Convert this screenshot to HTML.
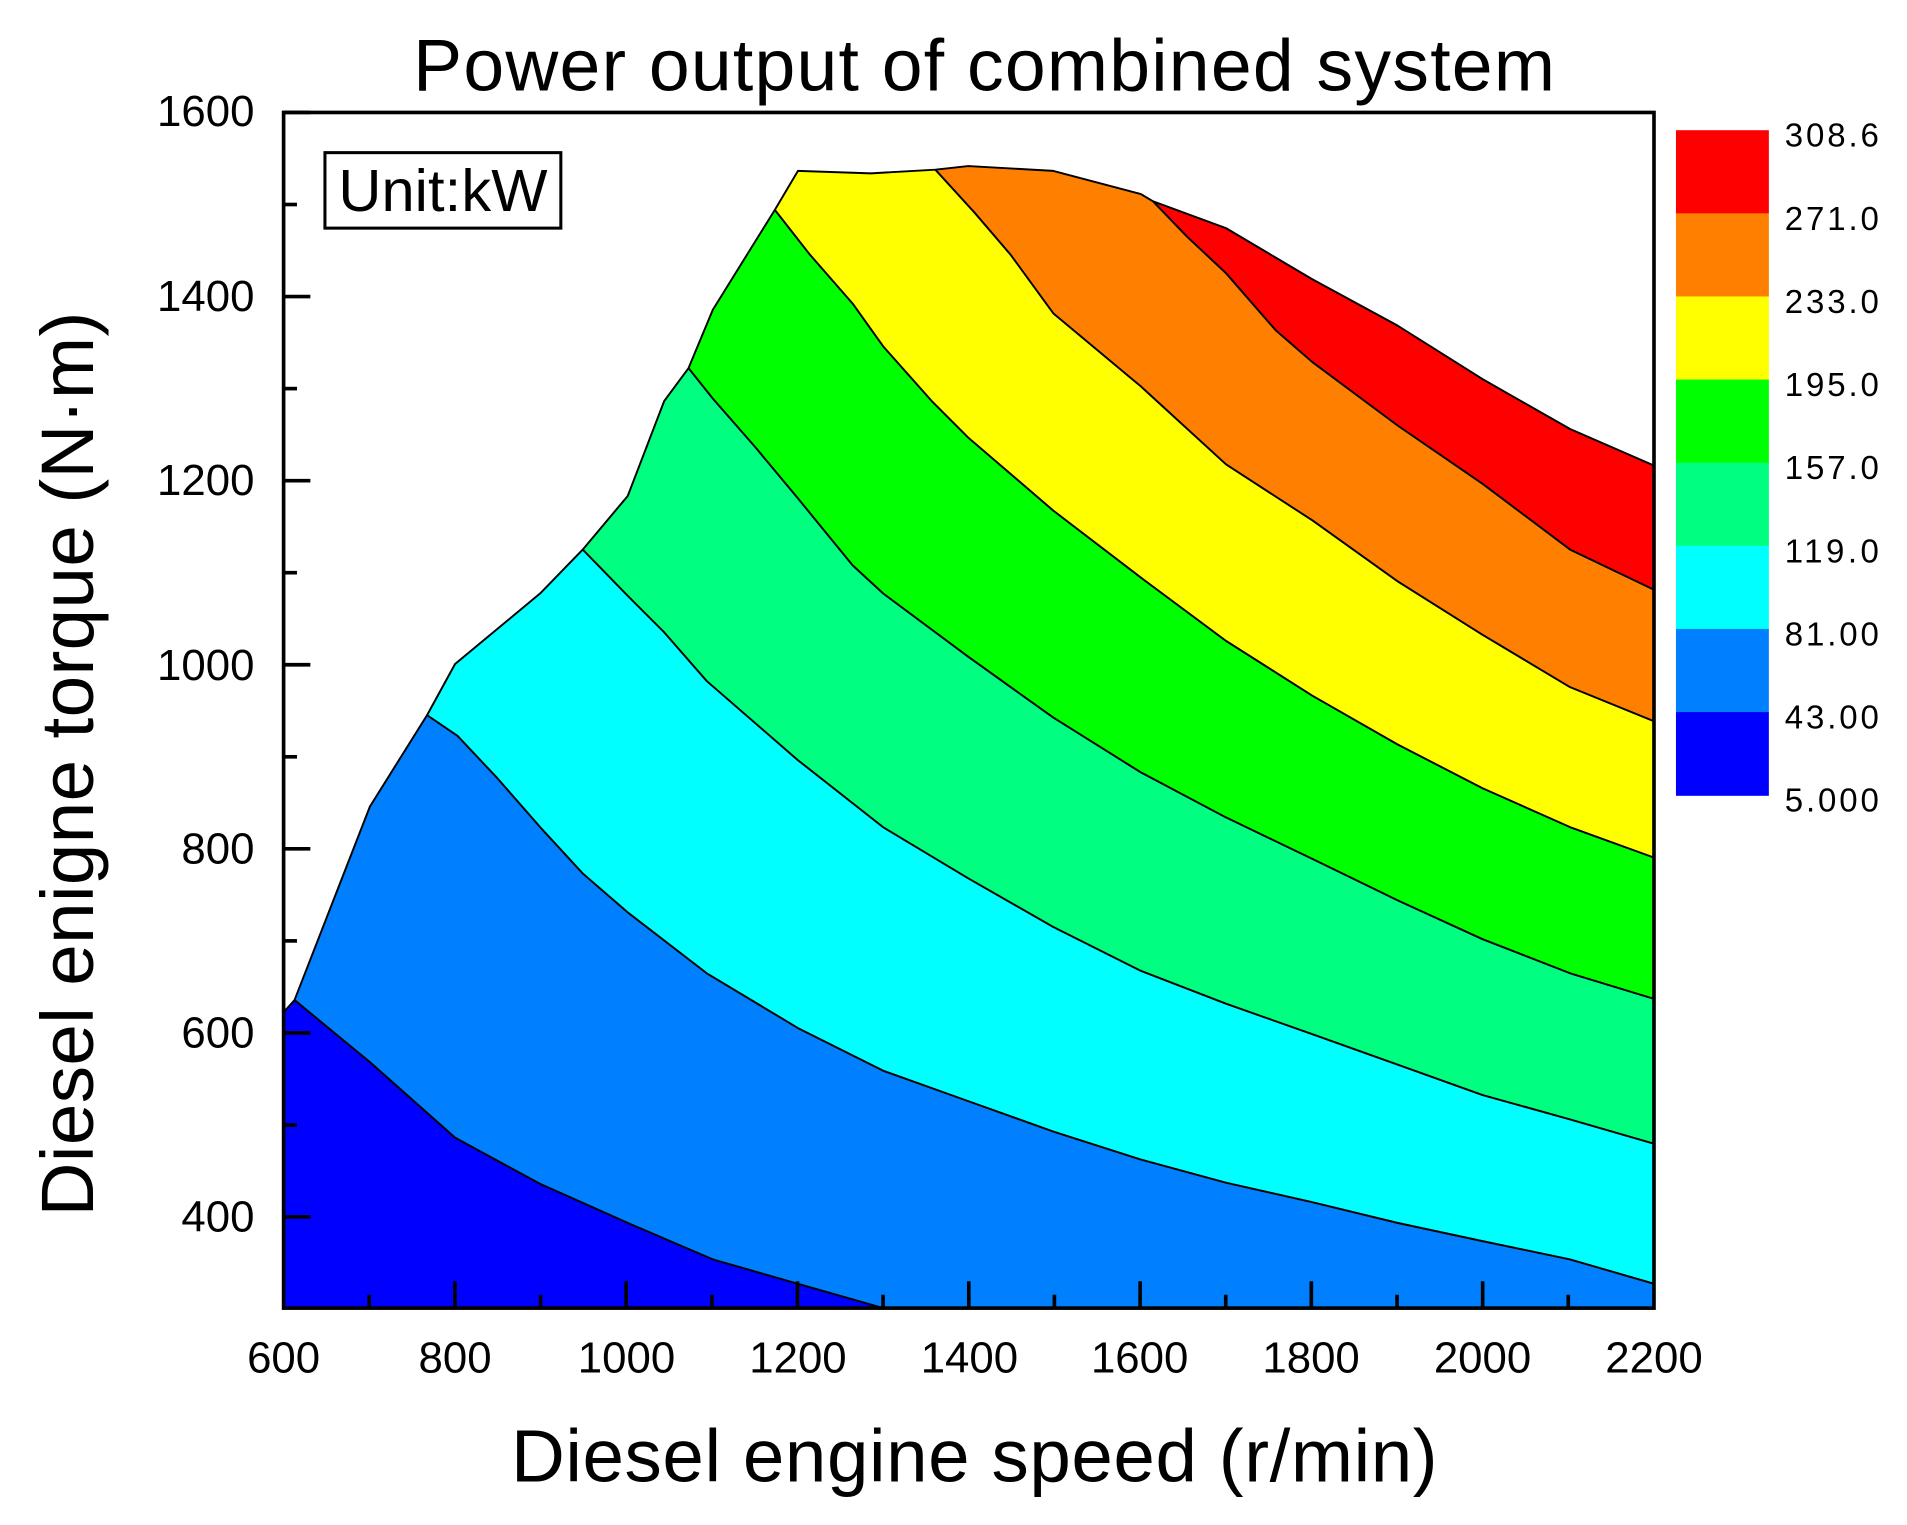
<!DOCTYPE html>
<html><head><meta charset="utf-8"><style>
html,body{margin:0;padding:0;background:#fff;}
svg{display:block;}
text{font-family:"Liberation Sans",Arial,sans-serif;fill:#000;}
</style></head><body>
<svg width="1907" height="1525" viewBox="0 0 1560 1247.5" preserveAspectRatio="none" xmlns="http://www.w3.org/2000/svg">
<defs>
<clipPath id="dom"><polygon points="232,832 241,822 303,663 350,588 373,546 443,488 478,452 515,408 545,330 565,303 585,255 636,173 655,141 715,143 768,140 795,137 865,141 937,160 947,166 1007,188 1078,230 1148,268 1218,312 1290,353 1359,383 1359,1075 232,1075"/></clipPath>
</defs>
<g transform="translate(232,92) scale(0.9947,0.996) translate(-232,-93)">
<g clip-path="url(#dom)">
<rect x="220" y="100" width="1150" height="990" fill="#ff0000"/>
<polygon fill="#ff8000" points="947,166 975,195 1007,225 1048,272 1078,298 1148,350 1218,398 1290,452 1359,485 1400,1200 100,1200 100,0 947,0"/>
<polygon fill="#ffff00" points="768,140 800,175 830,210 865,258 937,318 1007,382 1078,428 1148,478 1218,522 1290,565 1359,593 1400,1200 100,1200 100,0 768,0"/>
<polygon fill="#00ff00" points="636,173 665,210 700,250 725,285 765,330 795,360 865,420 937,475 1007,527 1078,572 1148,612 1218,648 1290,680 1359,705 1400,1200 100,1200 100,0 636,0"/>
<polygon fill="#00ff80" points="565,303 585,328 620,368 655,410 700,465 725,488 795,540 865,590 937,635 1007,672 1078,706 1148,740 1218,772 1290,800 1359,821 1400,1200 100,1200 100,0 565,0"/>
<polygon fill="#00ffff" points="478,452 515,490 545,520 580,560 655,625 725,680 795,722 865,762 937,798 1007,825 1078,850 1148,875 1218,900 1290,920 1359,940 1400,1200 100,1200 100,0 478,0"/>
<polygon fill="#0080ff" points="350,588 375,605 408,640 443,680 478,718 515,750 580,800 655,845 725,880 795,905 865,930 937,953 1007,972 1078,988 1148,1005 1218,1020 1290,1035 1359,1055 1400,1200 100,1200 100,0 350,0"/>
<polygon fill="#0000ff" points="241,822 303,873 373,935 443,973 515,1005 585,1035 655,1055 725,1075 725,1200 100,1200 100,0 241,0"/>
</g>
<g fill="none" stroke="#000" stroke-width="1.6" stroke-linejoin="round">
<polyline points="947,166 975,195 1007,225 1048,272 1078,298 1148,350 1218,398 1290,452 1359,485"/>
<polyline points="768,140 800,175 830,210 865,258 937,318 1007,382 1078,428 1148,478 1218,522 1290,565 1359,593"/>
<polyline points="636,173 665,210 700,250 725,285 765,330 795,360 865,420 937,475 1007,527 1078,572 1148,612 1218,648 1290,680 1359,705"/>
<polyline points="565,303 585,328 620,368 655,410 700,465 725,488 795,540 865,590 937,635 1007,672 1078,706 1148,740 1218,772 1290,800 1359,821"/>
<polyline points="478,452 515,490 545,520 580,560 655,625 725,680 795,722 865,762 937,798 1007,825 1078,850 1148,875 1218,900 1290,920 1359,940"/>
<polyline points="350,588 375,605 408,640 443,680 478,718 515,750 580,800 655,845 725,880 795,905 865,930 937,953 1007,972 1078,988 1148,1005 1218,1020 1290,1035 1359,1055"/>
<polyline points="241,822 303,873 373,935 443,973 515,1005 585,1035 655,1055 725,1075"/>
<polyline points="232,832 241,822 303,663 350,588 373,546 443,488 478,452 515,408 545,330 565,303 585,255 636,173 655,141 715,143 768,140 795,137 865,141 937,160 947,166 1007,188 1078,230 1148,268 1218,312 1290,353 1359,383"/>
</g>
<rect x="232" y="93" width="1127" height="982" fill="none" stroke="#000" stroke-width="3"/>
<g stroke="#000" stroke-width="3">
<line x1="232" y1="93" x2="254" y2="93"/><line x1="232" y1="168.6" x2="243" y2="168.6"/>
<line x1="232" y1="244.2" x2="254" y2="244.2"/><line x1="232" y1="319.8" x2="243" y2="319.8"/>
<line x1="232" y1="395.4" x2="254" y2="395.4"/><line x1="232" y1="471" x2="243" y2="471"/>
<line x1="232" y1="546.6" x2="254" y2="546.6"/><line x1="232" y1="622.2" x2="243" y2="622.2"/>
<line x1="232" y1="697.8" x2="254" y2="697.8"/><line x1="232" y1="773.4" x2="243" y2="773.4"/>
<line x1="232" y1="849" x2="254" y2="849"/><line x1="232" y1="924.6" x2="243" y2="924.6"/>
<line x1="232" y1="1000" x2="254" y2="1000"/>
<line x1="302.4" y1="1075" x2="302.4" y2="1064"/><line x1="372.9" y1="1075" x2="372.9" y2="1053"/>
<line x1="443.3" y1="1075" x2="443.3" y2="1064"/><line x1="513.7" y1="1075" x2="513.7" y2="1053"/>
<line x1="584.2" y1="1075" x2="584.2" y2="1064"/><line x1="654.6" y1="1075" x2="654.6" y2="1053"/>
<line x1="725" y1="1075" x2="725" y2="1064"/><line x1="795.5" y1="1075" x2="795.5" y2="1053"/>
<line x1="865.9" y1="1075" x2="865.9" y2="1064"/><line x1="936.4" y1="1075" x2="936.4" y2="1053"/>
<line x1="1006.8" y1="1075" x2="1006.8" y2="1064"/><line x1="1077.2" y1="1075" x2="1077.2" y2="1053"/>
<line x1="1147.7" y1="1075" x2="1147.7" y2="1064"/><line x1="1218.1" y1="1075" x2="1218.1" y2="1053"/>
<line x1="1288.5" y1="1075" x2="1288.5" y2="1064"/>
</g>
<g font-size="36" text-anchor="end">
<text x="208" y="104">1600</text><text x="208" y="256">1400</text><text x="208" y="407">1200</text>
<text x="208" y="559">1000</text><text x="208" y="710">800</text><text x="208" y="861">600</text><text x="208" y="1012">400</text>
</g>
<g font-size="36" text-anchor="middle">
<text x="232" y="1128">600</text><text x="373" y="1128">800</text><text x="514" y="1128">1000</text>
<text x="655" y="1128">1200</text><text x="796" y="1128">1400</text><text x="936" y="1128">1600</text>
<text x="1077" y="1128">1800</text><text x="1218" y="1128">2000</text><text x="1359" y="1128">2200</text>
</g>
<rect x="266" y="126" width="194" height="62" fill="#fff" stroke="#000" stroke-width="2.5"/>
<text x="363" y="174" font-size="49" text-anchor="middle" textLength="172">Unit:kW</text>
</g>
<text x="338" y="74" font-size="60" textLength="934">Power output of combined system</text>
<text x="418" y="1212" font-size="61" textLength="758">Diesel engine speed (r/min)</text>
<text transform="translate(76,625) rotate(-90)" font-size="61" text-anchor="middle" textLength="740">Diesel enigne torque (N·m)</text>
<g>
<rect x="1371" y="106.5" width="76" height="68.5" fill="#ff0000"/>
<rect x="1371" y="174.5" width="76" height="68.5" fill="#ff8000"/>
<rect x="1371" y="242.5" width="76" height="68.5" fill="#ffff00"/>
<rect x="1371" y="310.5" width="76" height="68.5" fill="#00ff00"/>
<rect x="1371" y="378.5" width="76" height="68.5" fill="#00ff80"/>
<rect x="1371" y="446.5" width="76" height="68.5" fill="#00ffff"/>
<rect x="1371" y="514.5" width="76" height="68.5" fill="#0080ff"/>
<rect x="1371" y="582.5" width="76" height="68.5" fill="#0000ff"/>
</g>
<g font-size="27">
<text x="1460" y="120" textLength="77">308.6</text><text x="1460" y="188" textLength="77">271.0</text>
<text x="1460" y="256" textLength="77">233.0</text><text x="1460" y="324" textLength="77">195.0</text>
<text x="1460" y="392" textLength="77">157.0</text><text x="1460" y="460" textLength="77">119.0</text>
<text x="1460" y="528" textLength="77">81.00</text><text x="1460" y="596" textLength="77">43.00</text>
<text x="1460" y="664" textLength="77">5.000</text>
</g>
</svg>
</body></html>
